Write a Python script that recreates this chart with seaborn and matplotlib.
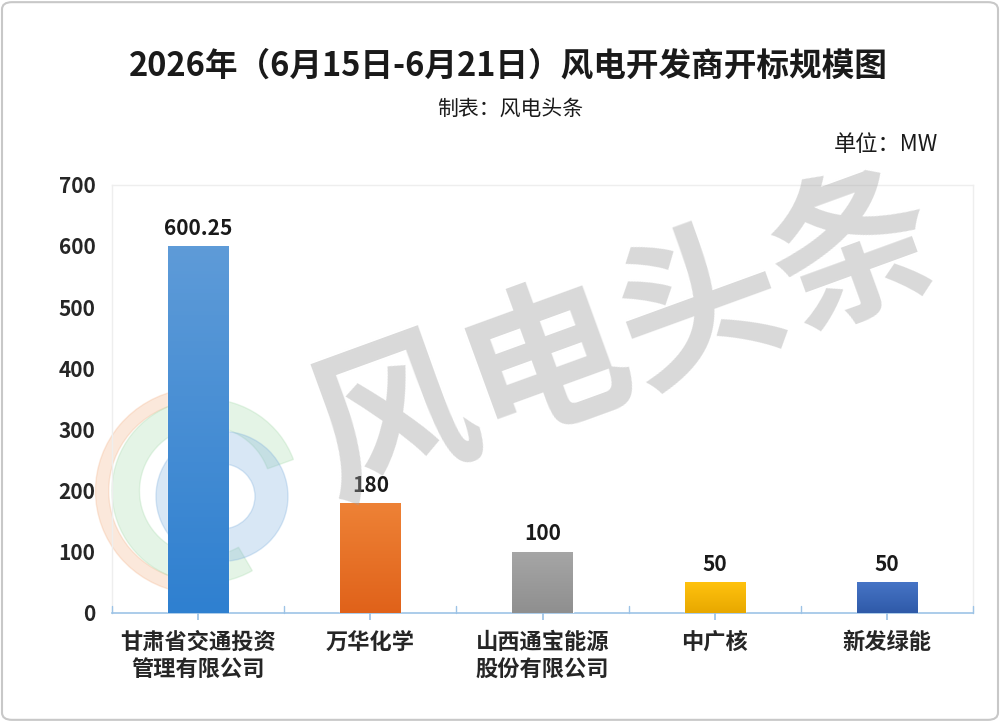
import numpy as np
import pandas as pd
import seaborn as sns
import matplotlib.pyplot as plt
from matplotlib.patches import Wedge, FancyBboxPatch
from matplotlib.colors import LinearSegmentedColormap

# data
companies = ["甘肃省交通投资\n管理有限公司", "万华化学", "山西通宝能源\n股份有限公司", "中广核", "新发绿能"]
capacity = [600.25, 180, 100, 50, 50]
value_labels = ["600.25", "180", "100", "50", "50"]
# top / bottom colours of each bar gradient
top_colors = ["#5e9bd8", "#ee8236", "#a6a6a6", "#ffc20e", "#4674c6"]
bottom_colors = ["#2f80d0", "#e0621a", "#8f8f8f", "#e8a800", "#2f5aa8"]

df = pd.DataFrame({"company": companies, "capacity": capacity})

sns.set_theme(style="white")
plt.rcParams['font.family'] = ['Noto Sans CJK SC', 'DejaVu Sans']

fig = plt.figure(figsize=(10, 7.22), dpi=100)

# faint logo watermark behind the plot
logo_ax = fig.add_axes([0.09, 0.17, 0.22, 0.30], zorder=0)
logo_ax.set_xlim(-1, 1)
logo_ax.set_ylim(-1, 1)
logo_ax.axis("off")
logo_ax.add_patch(Wedge((0, 0), 0.95, 100, 260, width=0.12, color="#f4b48a", alpha=0.3))
logo_ax.add_patch(Wedge((0.05, 0), 0.85, 20, 300, width=0.25, color="#a8dcae", alpha=0.3))
logo_ax.add_patch(Wedge((0.2, -0.05), 0.6, 0, 360, width=0.3, color="#7fb0de", alpha=0.3))

ax = fig.add_axes([0.112, 0.151, 0.861, 0.593], zorder=1)
ax.set_facecolor("none")

sns.barplot(data=df, x="company", y="capacity", hue="company", palette=top_colors,
            width=0.35, legend=False, ax=ax, zorder=3)

# gradient fill on each bar
for patch, c1, c2 in zip(ax.patches, top_colors, bottom_colors):
    x0, y0 = patch.get_x(), patch.get_y()
    w, h = patch.get_width(), patch.get_height()
    cmap = LinearSegmentedColormap.from_list("g", [c2, c1])
    grad = np.linspace(0, 1, 100).reshape(-1, 1)
    im = ax.imshow(grad, cmap=cmap, origin="lower", aspect="auto",
                   extent=[x0, x0 + w, y0, y0 + h], zorder=3)
    im.set_clip_path(patch)

for i, (v, lab) in enumerate(zip(capacity, value_labels)):
    ax.text(i, v + 12, lab, ha="center", va="bottom", fontsize=15,
            fontweight="bold", color="#1a1a1a", zorder=5)

ax.set_xlim(-0.5, len(companies) - 0.5)
ax.set_ylim(0, 700)
ax.set_yticks(range(0, 701, 100))
ax.set_xlabel("")
ax.set_ylabel("")
ax.tick_params(axis="y", labelsize=15, pad=12, length=0)
ax.tick_params(axis="x", labelsize=16, pad=8, length=5, direction="out",
               color="#9dc3e6", bottom=True)
for t in ax.get_yticklabels():
    t.set_fontweight("bold")
for t in ax.get_xticklabels():
    t.set_fontweight("bold")
    t.set_linespacing(1.2)
    t.set_va("top")

for side in ["top", "left", "right"]:
    ax.spines[side].set_color("#eeeeee")
    ax.spines[side].set_linewidth(1)
ax.spines["bottom"].set_color("#9dc3e6")
ax.spines["bottom"].set_linewidth(1.2)

# boundary ticks pointing up
for b in np.arange(-0.5, len(companies), 1.0):
    ax.plot([b, b], [0, 12], color="#9dc3e6", lw=1, zorder=4, clip_on=False)

# text watermark, semi-transparent over the bars
fig.text(0.625, 0.53, "风电头条", fontsize=118, color="#a0a0a0", alpha=0.4,
         rotation=20, ha="center", va="center", fontweight="bold", zorder=10)

# titles
fig.text(0.508, 0.909, "2026年（6月15日-6月21日）风电开发商开标规模图", ha="center", va="center",
         fontsize=23.5, fontweight="bold", color="#1a1a1a")
fig.text(0.51, 0.849, "制表：风电头条", ha="center", va="center", fontsize=15, color="#1a1a1a")
fig.text(0.938, 0.800, "单位：MW", ha="right", va="center", fontsize=16, color="#1a1a1a")

# outer frame
fig.patches.append(FancyBboxPatch((0.002, 0.003), 0.996, 0.994, boxstyle="round,pad=0,rounding_size=0.01",
                                  transform=fig.transFigure, fill=False, edgecolor="#c8c8c8", lw=1.5))

fig.savefig("out.png", dpi=100, facecolor="white")
